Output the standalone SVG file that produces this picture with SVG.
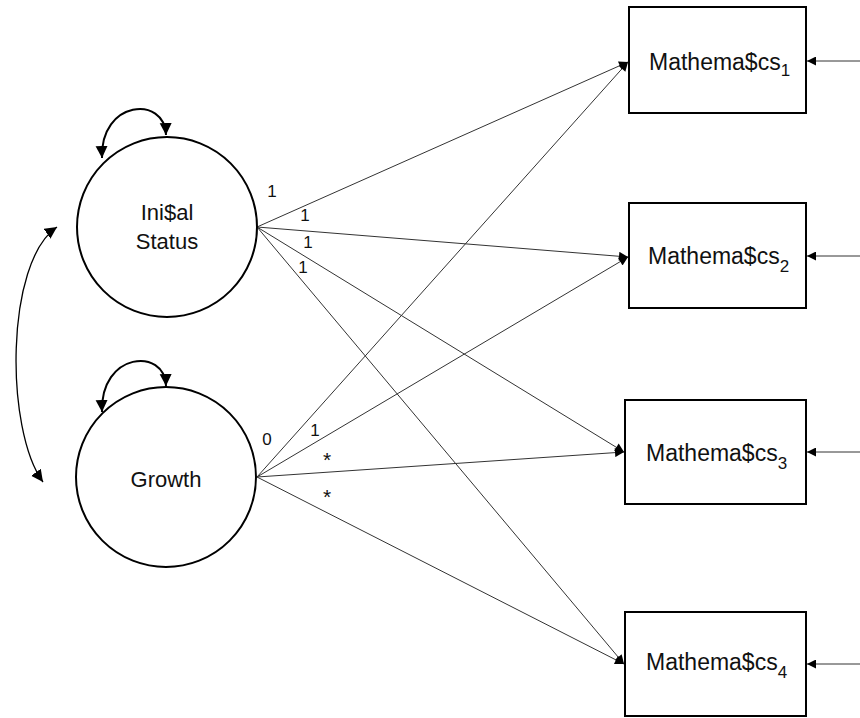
<svg xmlns="http://www.w3.org/2000/svg" width="860" height="718" viewBox="0 0 860 718">
<style>
.node{fill:#fff;stroke:#000;stroke-width:2}
.lbl{font-family:"Liberation Sans",Arial,sans-serif;fill:#111}
.big{font-size:23px}
.circ{font-size:22px;text-anchor:middle}
.sub{font-size:17px}
.num{font-size:17px;text-anchor:middle}
.ast{font-size:21px;text-anchor:middle}
.conn{fill:none;stroke:#333;stroke-width:1}
.loop{fill:none;stroke:#000;stroke-width:2}
.cov{fill:none;stroke:#000;stroke-width:1.3}
</style>
<defs>
<marker id="ah" viewBox="0 0 10 10" refX="10" refY="5" markerWidth="11" markerHeight="9" orient="auto" markerUnits="userSpaceOnUse"><path d="M0,0 L10,5 L0,10 z" fill="#000"/></marker>
<marker id="ahb" viewBox="0 0 10 10" refX="10" refY="5" markerWidth="12" markerHeight="13" orient="auto-start-reverse" markerUnits="userSpaceOnUse"><path d="M0,0 L10,5 L0,10 z" fill="#000"/></marker>
</defs>
<g id="connectors">
<line class="conn" x1="257" y1="227" x2="628" y2="62" marker-end="url(#ah)"/>
<line class="conn" x1="257" y1="227" x2="628" y2="257" marker-end="url(#ah)"/>
<line class="conn" x1="257" y1="227" x2="624" y2="452" marker-end="url(#ah)"/>
<line class="conn" x1="257" y1="227" x2="624" y2="664" marker-end="url(#ah)"/>
<line class="conn" x1="257" y1="477" x2="628" y2="62" marker-end="url(#ah)"/>
<line class="conn" x1="257" y1="477" x2="628" y2="257" marker-end="url(#ah)"/>
<line class="conn" x1="257" y1="477" x2="624" y2="452" marker-end="url(#ah)"/>
<line class="conn" x1="257" y1="477" x2="624" y2="664" marker-end="url(#ah)"/>
<line class="conn" x1="860" y1="61" x2="807" y2="61" marker-end="url(#ah)"/>
<line class="conn" x1="860" y1="256" x2="807" y2="256" marker-end="url(#ah)"/>
<line class="conn" x1="860" y1="452" x2="807" y2="452" marker-end="url(#ah)"/>
<line class="conn" x1="860" y1="664" x2="807" y2="664" marker-end="url(#ah)"/>
<path class="loop" d="M102 158 C100 100 165 95 166 135" marker-start="url(#ahb)" marker-end="url(#ahb)"/>
<path class="loop" d="M102 412 C100 352 165 347 166 386" marker-start="url(#ahb)" marker-end="url(#ahb)"/>
<path class="cov" d="M57 227 C5 262 5 430 43 482" marker-start="url(#ahb)" marker-end="url(#ahb)"/>
<text class="lbl num" x="272" y="197">1</text>
<text class="lbl num" x="305" y="221">1</text>
<text class="lbl num" x="308" y="248">1</text>
<text class="lbl num" x="303" y="273">1</text>
<text class="lbl num" x="267" y="445">0</text>
<text class="lbl num" x="315" y="436">1</text>
<text class="lbl ast" x="327" y="467">*</text>
<text class="lbl ast" x="327" y="504">*</text>
</g>
<g id="initial-status">
<circle class="node" cx="167" cy="227" r="90"/>
<text class="lbl circ" x="167" y="220">Ini$al</text>
<text class="lbl circ" x="167" y="249">Status</text>
</g>
<g id="growth">
<circle class="node" cx="166" cy="477" r="90"/>
<text class="lbl circ" x="166" y="487">Growth</text>
</g>
<g id="math1">
<rect class="node" x="629" y="7" width="177" height="106"/>
<text class="lbl big" x="649" y="70">Mathema$cs<tspan class="sub" dy="6">1</tspan></text>
</g>
<g id="math2">
<rect class="node" x="629" y="203" width="177" height="105"/>
<text class="lbl big" x="648" y="264">Mathema$cs<tspan class="sub" dy="8">2</tspan></text>
</g>
<g id="math3">
<rect class="node" x="625" y="400" width="181" height="104"/>
<text class="lbl big" x="646" y="461">Mathema$cs<tspan class="sub" dy="8">3</tspan></text>
</g>
<g id="math4">
<rect class="node" x="625" y="612" width="181" height="104"/>
<text class="lbl big" x="646" y="670">Mathema$cs<tspan class="sub" dy="8">4</tspan></text>
</g>
</svg>
